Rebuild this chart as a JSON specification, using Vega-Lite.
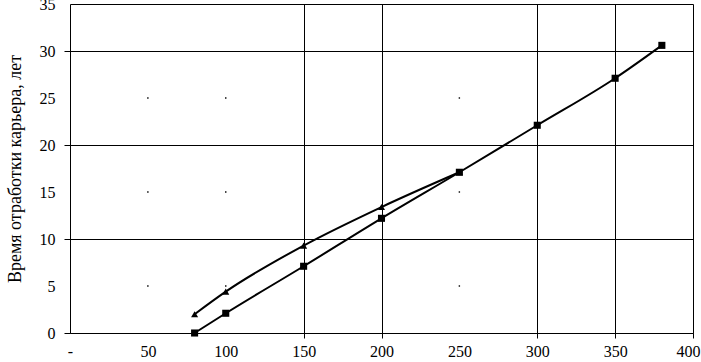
{
  "$schema": "https://vega.github.io/schema/vega-lite/v6.json",
  "autosize": "none",
  "width": 623,
  "height": 329,
  "padding": {"left": 70, "top": 4, "right": 8, "bottom": 29},
  "background": "white",
  "config": {
    "view": {"stroke": "black", "strokeWidth": 1},
    "font": "Liberation Serif, serif"
  },
  "datasets": {
    "series": [
      {"x": 80, "y": 0, "s": "squares"},
      {"x": 100, "y": 2.1, "s": "squares"},
      {"x": 150, "y": 7.1, "s": "squares"},
      {"x": 200, "y": 12.2, "s": "squares"},
      {"x": 250, "y": 17.1, "s": "squares"},
      {"x": 300, "y": 22.1, "s": "squares"},
      {"x": 350, "y": 27.1, "s": "squares"},
      {"x": 380, "y": 30.6, "s": "squares"},
      {"x": 80, "y": 2.0, "s": "triangles"},
      {"x": 100, "y": 4.4, "s": "triangles"},
      {"x": 150, "y": 9.3, "s": "triangles"},
      {"x": 200, "y": 13.4, "s": "triangles"},
      {"x": 250, "y": 17.1, "s": "triangles"}
    ],
    "dots": [
      {"x": 50, "y": 5}, {"x": 100, "y": 5}, {"x": 250, "y": 5},
      {"x": 50, "y": 15}, {"x": 100, "y": 15}, {"x": 250, "y": 15},
      {"x": 50, "y": 25}, {"x": 100, "y": 25}, {"x": 250, "y": 25}
    ]
  },
  "layer": [
    {
      "data": {"name": "dots"},
      "mark": {"type": "square", "size": 2, "color": "black", "opacity": 1, "filled": true},
      "encoding": {
        "x": {
          "field": "x", "type": "quantitative",
          "scale": {"domain": [0, 400], "nice": false, "zero": true},
          "axis": {
            "values": [0, 50, 100, 150, 200, 250, 300, 350, 400],
            "labelExpr": "datum.value === 0 ? '-' : datum.label",
            "title": null,
            "domain": false,
            "grid": true,
            "gridColor": "black",
            "gridWidth": 1,
            "gridOpacity": {"condition": {"test": "indexof([150,200,300,350], datum.value) >= 0", "value": 1}, "value": 0},
            "ticks": true,
            "tickColor": "black",
            "tickSize": 5,
            "tickOpacity": {"condition": {"test": "indexof([150,200,300,350,400], datum.value) >= 0", "value": 1}, "value": 0},
            "labelFont": "Liberation Serif, serif",
            "labelFontSize": 16,
            "labelColor": "black",
            "labelPadding": 5,
            "labelOffset": {"condition": {"test": "datum.value === 400", "value": -5}, "value": 0},
            "labelFlush": false
          }
        },
        "y": {
          "field": "y", "type": "quantitative",
          "scale": {"domain": [0, 35], "nice": false},
          "axis": {
            "values": [0, 5, 10, 15, 20, 25, 30, 35],
            "title": "Время отработки карьера, лет",
            "titleFont": "Liberation Serif, serif",
            "titleFontSize": 18,
            "titleFontWeight": "normal",
            "titleColor": "black",
            "titlePadding": 15,
            "domain": false,
            "grid": true,
            "gridColor": "black",
            "gridWidth": 1,
            "gridOpacity": {"condition": {"test": "datum.value % 10 === 0", "value": 1}, "value": 0},
            "ticks": true,
            "tickColor": "black",
            "tickSize": 6,
            "tickOpacity": {"condition": {"test": "datum.value % 10 === 0", "value": 1}, "value": 0},
            "labelFont": "Liberation Serif, serif",
            "labelFontSize": 16,
            "labelColor": "black",
            "labelPadding": 9,
            "labelFlush": false
          }
        }
      }
    },
    {
      "data": {"name": "series"},
      "mark": {"type": "line", "interpolate": "monotone", "color": "black", "strokeWidth": 2},
      "encoding": {
        "x": {"field": "x", "type": "quantitative"},
        "y": {"field": "y", "type": "quantitative"},
        "detail": {"field": "s"}
      }
    },
    {
      "data": {"name": "series"},
      "mark": {"type": "point", "filled": true, "color": "black", "opacity": 1},
      "encoding": {
        "x": {"field": "x", "type": "quantitative"},
        "y": {"field": "y", "type": "quantitative"},
        "shape": {"field": "s", "type": "nominal", "scale": {"domain": ["squares", "triangles"], "range": ["square", "triangle-up"]}, "legend": null},
        "size": {"value": 50}
      }
    }
  ]
}
